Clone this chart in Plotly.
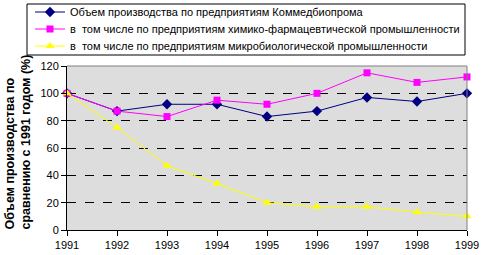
import plotly.graph_objects as go

years = [1991, 1992, 1993, 1994, 1995, 1996, 1997, 1998, 1999]
kommed = [100, 87, 92, 92, 83, 87, 97, 94, 100]
khimfarm = [100, 87, 83, 95, 92, 100, 115, 108, 112]
mikrobio = [100, 75, 47, 34, 20, 17, 17, 13, 10]
y_ticks = [0, 20, 40, 60, 80, 100, 120]

names = [
    "Объем производства по предприятиям Коммедбиопрома",
    "в  том числе по предприятиям химико-фармацевтической промышленности",
    "в  том числе по предприятиям микробиологической промышленности",
]
y_title = "<b>Объем производства по<br>сравнению с 1991 годом (%)</b>"
FONT = "Liberation Sans, Arial, sans-serif"

fig = go.Figure()
fig.add_trace(go.Scatter(x=years, y=kommed, name=names[0], mode="lines+markers",
                         line=dict(color="#000080", width=1),
                         marker=dict(symbol="diamond", size=8, color="#000080"),
                         cliponaxis=False, legend="legend"))
fig.add_trace(go.Scatter(x=years, y=khimfarm, name=names[1], mode="lines+markers",
                         line=dict(color="#FF00FF", width=1),
                         marker=dict(symbol="square", size=7, color="#FF00FF"),
                         cliponaxis=False, legend="legend2"))
fig.add_trace(go.Scatter(x=years, y=mikrobio, name=names[2], mode="lines+markers",
                         line=dict(color="#FFFF00", width=1),
                         marker=dict(symbol="triangle-up", size=8, color="#FFFF00"),
                         cliponaxis=False, legend="legend3"))

def leg(ypix):
    return dict(x=(30 - 67) / 400, y=(230 - ypix) / 164, xanchor="left", yanchor="middle",
                bgcolor="rgba(0,0,0,0)", borderwidth=0,
                font=dict(family=FONT, size=11, color="black"),
                itemwidth=30)

fig.update_layout(
    width=484, height=255,
    margin=dict(l=67, r=17, t=66, b=25, autoexpand=False),
    paper_bgcolor="white",
    plot_bgcolor="#DDDDDD",
    font=dict(family=FONT, size=11, color="black"),
    showlegend=True,
    legend=leg(12), legend2=leg(29), legend3=leg(46),
    xaxis=dict(range=[1991, 1999], tickvals=years, ticks="outside", ticklen=5,
               tickcolor="black", showline=True, linecolor="black", linewidth=1,
               showgrid=False, zeroline=False, tickfont=dict(size=11)),
    yaxis=dict(range=[0, 120], tickvals=y_ticks, ticks="outside", ticklen=5,
               tickcolor="black", showline=True, linecolor="black", linewidth=1,
               showgrid=True, gridcolor="black", griddash="dash", gridwidth=1,
               zeroline=False, tickfont=dict(size=11)),
    annotations=[
        dict(text=y_title, xref="paper", yref="paper", align="left",
             x=(17 - 67) / 400, y=(230 - 232) / 164, xanchor="center", yanchor="bottom",
             textangle=-90, showarrow=False, font=dict(family=FONT, size=12.5, color="black")),
    ],
    shapes=[
        dict(type="line", xref="x domain", yref="y domain", x0=0, x1=1, y0=1, y1=1,
             line=dict(color="#808080", width=1), layer="above"),
        dict(type="line", xref="x domain", yref="y domain", x0=1, x1=1, y0=0, y1=1,
             line=dict(color="#808080", width=1), layer="above"),
        dict(type="rect", xref="paper", yref="paper",
             x0=(27 - 67) / 400, x1=(465 - 67) / 400,
             y0=(230 - 55) / 164, y1=(230 - 4) / 164,
             line=dict(color="black", width=1), fillcolor="white", layer="above"),
    ],
)

fig.write_html("out.html")
